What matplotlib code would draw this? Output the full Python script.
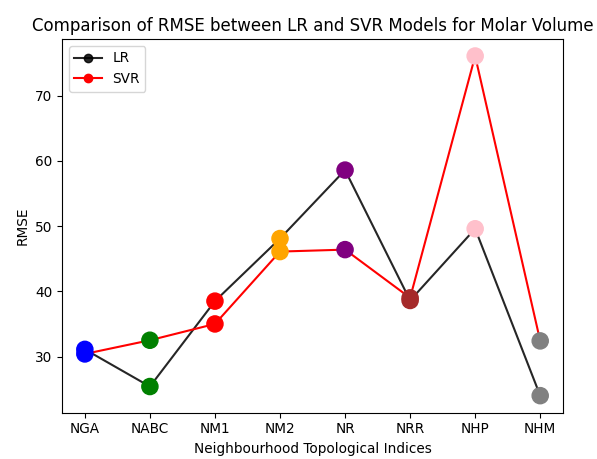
import matplotlib
matplotlib.use("Agg")
import matplotlib.pyplot as plt

indices = ['NGA', 'NABC', 'NM1', 'NM2', 'NR', 'NRR', 'NHP', 'NHM']
lr_rmse = [31.1, 25.4, 38.5, 48.1, 58.6, 38.6, 49.6, 24.0]
svr_rmse = [30.4, 32.5, 35.0, 46.1, 46.4, 39.0, 76.1, 32.4]
point_colors = ['blue', 'green', 'red', 'orange', 'purple', 'brown', 'pink', 'gray']

fig = plt.figure(figsize=(5.97, 4.59), dpi=100)
ax = fig.add_axes([0.104, 0.101, 0.839, 0.814])

ax.plot(indices, lr_rmse, color='black', marker='o', label='LR', alpha=0.85, markersize=6)
ax.plot(indices, svr_rmse, color='red', marker='o', label='SVR', markersize=6)

# colored markers per index on top of both lines
ax.scatter(indices, lr_rmse, c=point_colors, s=135, zorder=3)
ax.scatter(indices, svr_rmse, c=point_colors, s=135, zorder=3)

ax.set_title('Comparison of RMSE between LR and SVR Models for Molar Volume', fontsize=12)
ax.set_xlabel('Neighbourhood Topological Indices', fontsize=9.8)
ax.set_ylabel('RMSE', fontsize=9.8)
ax.tick_params(labelsize=9.8)
ax.set_yticks([30, 40, 50, 60, 70])
ax.legend(loc='upper left', fontsize=9.8)

fig.savefig('out.png', dpi=100)
